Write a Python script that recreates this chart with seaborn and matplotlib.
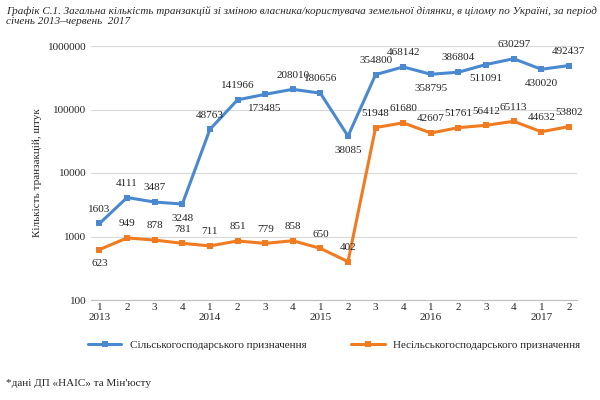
import matplotlib
matplotlib.use("Agg")
import matplotlib.pyplot as plt
import seaborn as sns
import pandas as pd
import numpy as np

quarters = ["1","2","3","4","1","2","3","4","1","2","3","4","1","2","3","4","1","2"]
years = ["2013","","","","2014","","","","2015","","","","2016","","","","2017",""]
agri = [1603,4111,3487,3248,48763,141966,173485,208010,180656,38085,354800,468142,358795,386804,511091,630297,430020,492437]
nonagri = [623,949,878,781,711,851,779,858,650,402,51948,61680,42607,51761,56412,65113,44632,53802]
agri_pos = [1,1,1,-1,1,1,-1,1,1,-1,1,1,-1,1,-1,1,-1,1]
nonagri_pos = [-1]+[1]*17
s1 = "Сільськогосподарського призначення"
s2 = "Несільськогосподарського призначення"

sns.set_style("white")
plt.rcParams['font.family'] = ['Liberation Serif', 'DejaVu Serif']
fig = plt.figure(figsize=(6,4), dpi=100)
ax = fig.add_axes([0.152, 0.25, 0.81, 0.635])
x = np.arange(len(agri))
df = pd.DataFrame({"x": np.concatenate([x,x]), "v": agri+nonagri, "s": [s1]*len(x)+[s2]*len(x)})
sns.lineplot(data=df, x="x", y="v", hue="s", palette=["#4a89cf","#f07b20"], marker="s",
             markersize=5, markeredgewidth=0, linewidth=2.2, ax=ax)
ax.set_yscale("log")
ax.set_ylim(100, 1e6)
ax.set_xlim(-0.3, len(x)-0.7)
ax.set_yticks([100,1000,10000,100000,1000000])
ax.set_yticklabels(["100","1000","10000","100000","1000000"], fontsize=8)
ax.yaxis.grid(True, color="#d9d9d9", linewidth=0.8)
ax.set_xticks(x)
ax.set_xticklabels([q+"\n"+y for q,y in zip(quarters, years)], fontsize=8)
ax.tick_params(axis="x", length=0, pad=2)
ax.tick_params(axis="y", length=0)
for sp in ["top","right","left"]:
    ax.spines[sp].set_visible(False)
ax.spines["bottom"].set_color("#bfbfbf")
ax.set_xlabel("")
ax.set_ylabel("Кількість транзакцій, штук", fontsize=8)
for xi, v, p in zip(x, agri, agri_pos):
    ax.annotate(str(v), (xi, v), xytext=(0, 7*p), textcoords="offset points",
                ha="center", va="bottom" if p > 0 else "top", fontsize=8)
for xi, v, p in zip(x, nonagri, nonagri_pos):
    ax.annotate(str(v), (xi, v), xytext=(0, 7*p), textcoords="offset points",
                ha="center", va="bottom" if p > 0 else "top", fontsize=8)
ax.legend(loc="upper center", bbox_to_anchor=(0.5, -0.12), ncol=2, frameon=False, fontsize=8,
          handlelength=3, columnspacing=4)
fig.text(0.01, 0.985, "Графік С.1. Загальна кількість транзакцій зі зміною власника/користувача земельної ділянки, в цілому по Україні, за період\nсічень 2013–червень  2017",
         fontsize=8, style="italic", va="top")
fig.text(0.01, 0.035, "*дані ДП «НАІС» та Мін'юсту", fontsize=8)
fig.savefig("out.png", dpi=100)
